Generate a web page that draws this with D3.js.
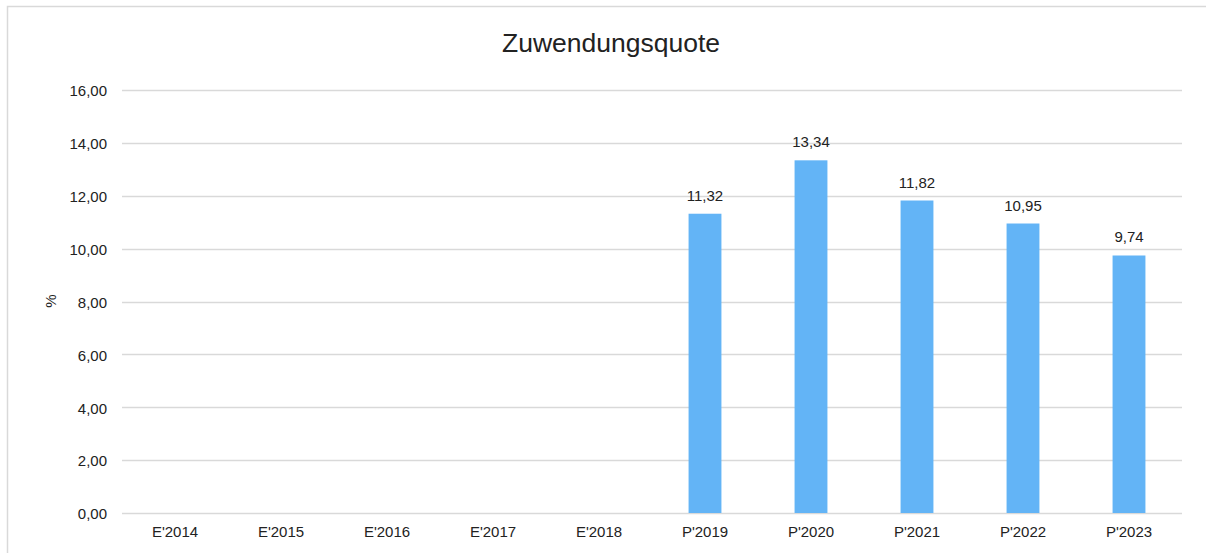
<!DOCTYPE html>
<html>
<head>
<meta charset="utf-8">
<script src="https://cdn.jsdelivr.net/npm/d3@7"></script>
<style>
  body { margin: 0; background: #fff; }
  svg text { font-family: "Liberation Sans", Arial, Helvetica, sans-serif; fill: #222; }
</style>
</head>
<body>
<div id="chart"></div>
<script>
// chart data
var categories = ["E'2014", "E'2015", "E'2016", "E'2017", "E'2018",
                  "P'2019", "P'2020", "P'2021", "P'2022", "P'2023"];
var values = [null, null, null, null, null, 11.32, 13.34, 11.82, 10.95, 9.74];
var yTicks = [0, 2, 4, 6, 8, 10, 12, 14, 16];

var width = 1206, height = 553;
var margin = {top: 90, right: 24, bottom: 40, left: 122};

var svg = d3.select("#chart").append("svg")
    .attr("width", width)
    .attr("height", height);

// outer frame (only top and left edges are visible in the window)
svg.append("path")
    .attr("d", "M7.5," + height + "V6.5H" + width)
    .attr("fill", "none")
    .attr("stroke", "#d9d9d9")
    .attr("stroke-width", 1.5);

var x = d3.scaleBand()
    .domain(categories)
    .range([margin.left, width - margin.right])
    .paddingInner(0.69)
    .paddingOuter(0.345);

var y = d3.scaleLinear()
    .domain([0, 16])
    .range([height - margin.bottom, margin.top]);

var fmt = function(v) { return d3.format(".2f")(v).replace(".", ","); };

// gridlines
svg.append("g").selectAll("line")
    .data(yTicks)
    .join("line")
    .attr("x1", margin.left)
    .attr("x2", width - margin.right)
    .attr("y1", function(d) { return Math.round(y(d)) + 0.5; })
    .attr("y2", function(d) { return Math.round(y(d)) + 0.5; })
    .attr("stroke", "#d9d9d9")
    .attr("stroke-width", 1.5);

// y axis labels
var yAxis = svg.append("g")
    .attr("transform", "translate(" + (margin.left - 15) + ",1)")
    .call(d3.axisLeft(y).tickValues(yTicks).tickFormat(fmt).tickSize(0).tickPadding(0));
yAxis.select(".domain").remove();
yAxis.selectAll("text")
    .attr("font-size", 15)
    .attr("fill", "#222")
    .attr("font-family", "Liberation Sans, Arial, sans-serif");

// x axis labels
var xAxis = svg.append("g")
    .attr("transform", "translate(0," + (height - margin.bottom) + ")")
    .call(d3.axisBottom(x).tickSize(0).tickPadding(13));
xAxis.select(".domain").remove();
xAxis.selectAll("text")
    .attr("font-size", 15)
    .attr("fill", "#222")
    .attr("font-family", "Liberation Sans, Arial, sans-serif");

// bars
var barData = categories.map(function(c, i) { return {cat: c, val: values[i]}; })
    .filter(function(d) { return d.val !== null; });

svg.append("g").selectAll("rect")
    .data(barData)
    .join("rect")
    .attr("x", function(d) { return x(d.cat); })
    .attr("width", x.bandwidth())
    .attr("y", function(d) { return y(d.val); })
    .attr("height", function(d) { return y(0) - y(d.val); })
    .attr("fill", "#63b4f6");

// data labels
svg.append("g").selectAll("text")
    .data(barData)
    .join("text")
    .attr("x", function(d) { return x(d.cat) + x.bandwidth() / 2; })
    .attr("y", function(d) { return y(d.val) - 13; })
    .attr("text-anchor", "middle")
    .attr("font-size", 15)
    .text(function(d) { return fmt(d.val); });

// title
svg.append("text")
    .attr("x", 611)
    .attr("y", 52)
    .attr("text-anchor", "middle")
    .attr("font-size", 26.5)
    .text("Zuwendungsquote");

// y axis title
svg.append("text")
    .attr("transform", "translate(56," + 301 + ") rotate(-90)")
    .attr("text-anchor", "middle")
    .attr("font-size", 15)
    .text("%");
</script>
</body>
</html>
